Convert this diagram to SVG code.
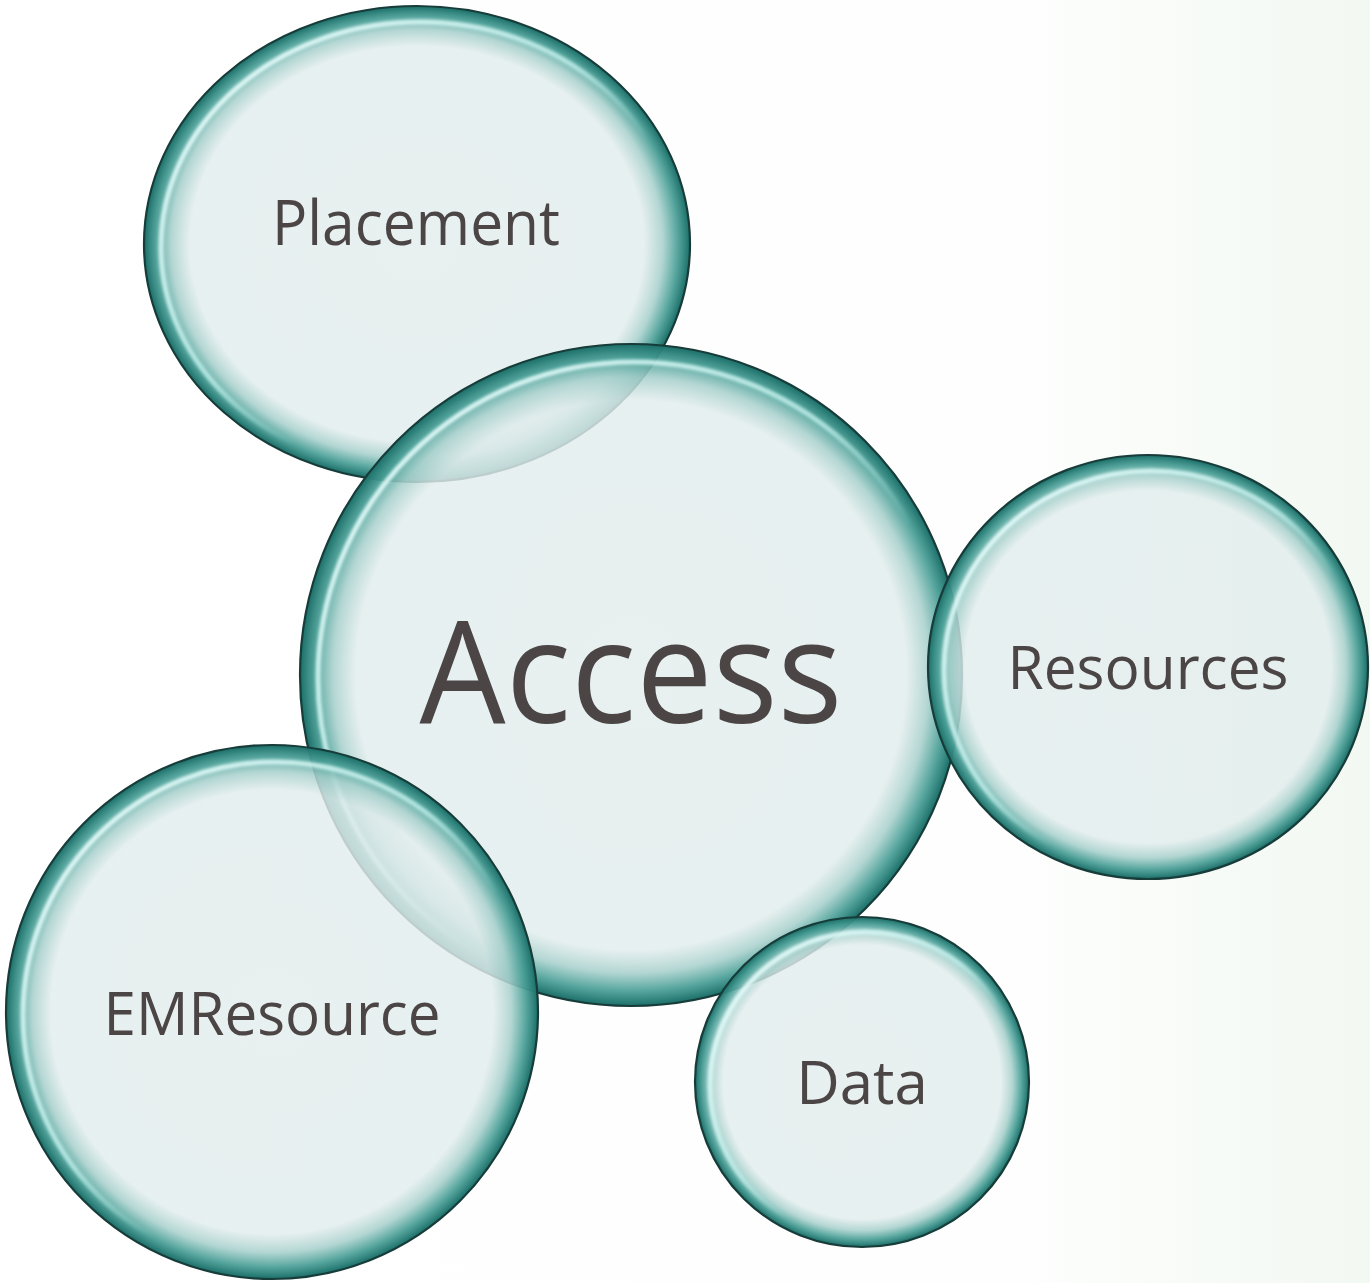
<svg xmlns="http://www.w3.org/2000/svg" width="1370" height="1283" viewBox="0 0 1370 1283">
<defs>
<linearGradient id="bg" x1="0" y1="0" x2="1" y2="0">
<stop offset="0" stop-color="#ffffff"/>
<stop offset="0.75" stop-color="#fdfefd"/>
<stop offset="1" stop-color="#f2f8f2"/>
</linearGradient>
<radialGradient id="bub" cx="0.5" cy="0.5" r="0.5">
<stop offset="0" stop-color="#e3eded" stop-opacity="0.82"/>
<stop offset="0.83" stop-color="#e2eded" stop-opacity="0.82"/>
<stop offset="0.9" stop-color="#a9d1cd" stop-opacity="0.88"/>
<stop offset="0.955" stop-color="#4a9f97" stop-opacity="0.93"/>
<stop offset="1" stop-color="#1a6f68" stop-opacity="1"/>
</radialGradient>
<linearGradient id="hl" x1="0" y1="0" x2="1" y2="1">
<stop offset="0" stop-color="#f0ffff" stop-opacity="1"/>
<stop offset="0.45" stop-color="#c8f4f0" stop-opacity="0.75"/>
<stop offset="0.6" stop-color="#c8f4f0" stop-opacity="0"/>
<stop offset="1" stop-color="#c8f4f0" stop-opacity="0"/>
</linearGradient>
<filter id="blur" x="-10%" y="-10%" width="120%" height="120%">
<feGaussianBlur stdDeviation="1.8"/>
</filter>
</defs>
<style>
.b{fill:url(#bub);stroke:#173c39;stroke-width:2.2}
.h{fill:none;stroke:url(#hl);stroke-width:5;filter:url(#blur)}
.t{font-family:"Open Sans","Liberation Sans",sans-serif;fill:#4b4546;text-anchor:middle}
</style>
<rect width="1370" height="1283" fill="url(#bg)"/>
<g id="placement">
<ellipse class="b" cx="417" cy="244" rx="273" ry="238"/>
<ellipse class="h" cx="420" cy="247" rx="259" ry="225"/>
<text class="t" x="416" y="245" font-size="62" textLength="288" lengthAdjust="spacingAndGlyphs">Placement</text>
</g>
<g id="access">
<ellipse class="b" cx="631" cy="675" rx="331" ry="331"/>
<ellipse class="h" cx="634" cy="678" rx="316" ry="316"/>
<text class="t" x="631" y="723" font-size="142" textLength="423" lengthAdjust="spacingAndGlyphs">Access</text>
</g>
<g id="resources">
<ellipse class="b" cx="1148" cy="667" rx="220" ry="212"/>
<ellipse class="h" cx="1151" cy="670" rx="207" ry="199"/>
<text class="t" x="1148" y="689" font-size="60" textLength="281" lengthAdjust="spacingAndGlyphs">Resources</text>
</g>
<g id="emresource">
<ellipse class="b" cx="272" cy="1012" rx="266" ry="267"/>
<ellipse class="h" cx="275" cy="1015" rx="252" ry="253"/>
<text class="t" x="272" y="1035" font-size="60" textLength="337" lengthAdjust="spacingAndGlyphs">EMResource</text>
</g>
<g id="data">
<ellipse class="b" cx="862" cy="1082" rx="167" ry="165"/>
<ellipse class="h" cx="865" cy="1085" rx="155" ry="153"/>
<text class="t" x="862" y="1104" font-size="60">Data</text>
</g>
<g id="connectors"/>
</svg>
